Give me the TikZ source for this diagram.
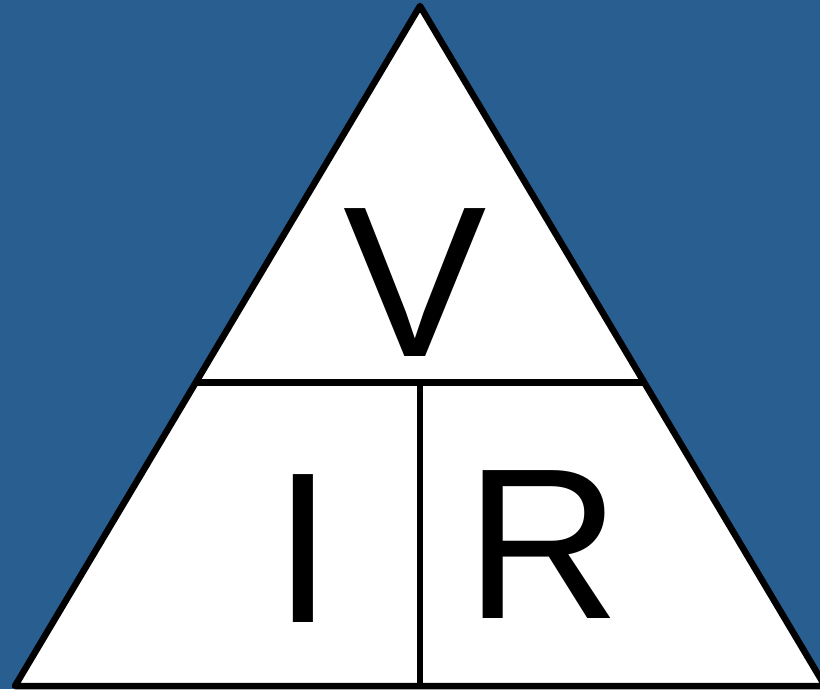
\documentclass[tikz,border=0pt]{standalone}
\usepackage{fontspec}
\setmainfont{Liberation Sans}
\definecolor{bgblue}{RGB}{41,94,145}
\begin{document}
\begin{tikzpicture}[x=1pt,y=1pt,
  edge/.style={draw=black,line width=6.5pt,line join=round},
  letter/.style={inner sep=0pt,anchor=base,font=\fontsize{215}{215}\selectfont}]
\useasboundingbox (0,0) rectangle (820,689);
\fill[bgblue] (0,0) rectangle (820,689);
\begin{scope}
\clip (0,0) rectangle (820,689);
\coordinate (apex) at (420,683);
\coordinate (bl) at (15,3);
\coordinate (br) at (825,3);
\coordinate (ml) at (195,306);
\coordinate (mr) at (645,306);
\coordinate (mm) at (420,306);
\coordinate (bm) at (420,3);
\filldraw[fill=white,edge] (apex) -- (bl) -- (br) -- cycle;
\draw[edge,line width=7pt] (ml) -- (mr);
\draw[edge,line width=5.5pt] (mm) -- (bm);
\end{scope}
\node[letter] (V) at (415.5,332) {V};
\node[letter] (I) at (303.5,67) {I};
\node[letter] (R) at (543,71) {R};
\end{tikzpicture}
\end{document}
